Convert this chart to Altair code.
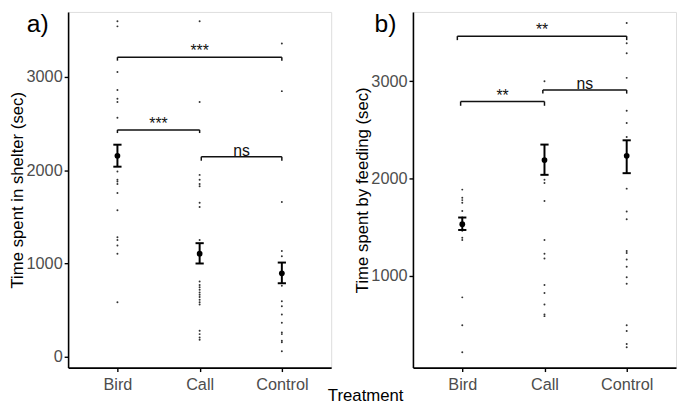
import altair as alt
import pandas as pd

FONT = "Liberation Sans"

categories = ["Bird", "Call", "Control"]

# ---- Panel a: Time spent in shelter (sec) ----
a_bird = [3599, 3543, 3053, 2859, 2767, 2732, 2563, 1985, 1896, 1879, 1851, 1755,
          1569, 1280, 1251, 1191, 1103, 582]
a_call = [3599, 2732, 1949, 1896, 1851, 1826, 1650, 1604, 1251, 804, 768, 744, 716,
          687, 663, 638, 610, 582, 557, 275, 240, 204, 180]
a_control = [3359, 2848, 1657, 1131, 1075, 899, 758, 592, 539, 451, 363, 257, 240,
             169, 152, 56]
a_mean = [2154, 1103, 892]
a_low = [2037, 998, 786]
a_high = [2273, 1216, 1008]

a_sig_x1 = [1, 1, 2.02]
a_sig_x2 = [3, 2, 3]
a_sig_y = [3212, 2432, 2144]
a_sig_tip = [3175, 2398, 2101]
a_sig_label = ["***", "***", "ns"]

# ---- Panel b: Time spent by feeding (sec) ----
b_bird = [1885, 1801, 1777, 1750, 1666, 1598, 1537, 1463, 1389, 1368, 777, 490, 213]
b_call = [3000, 1986, 1953, 1767, 1368, 1226, 1176, 905, 821, 703, 601, 584]
b_control = [3598, 3389, 3287, 3034, 2696, 2571, 2426, 1895, 1659, 1581, 1253, 1233,
             1166, 1091, 983, 916, 490, 432, 297, 264]
b_mean = [1530, 2189, 2233]
b_low = [1470, 2037, 2054]
b_high = [1598, 2348, 2392]

b_sig_x1 = [0.94, 0.98, 1.98]
b_sig_x2 = [3, 2, 3]
b_sig_y = [3463, 2791, 2909]
b_sig_tip = [3422, 2747, 2872]
b_sig_label = ["**", "**", "ns"]

a_ticks = [0, 1000, 2000, 3000]
b_ticks = [1000, 2000, 3000]
a_domain = [-119.5, 3698]
b_domain = [54.7, 3712]

W, H = 267, 361
CAP = 0.05

label_expr = "[" + ",".join("'%s'" % c for c in categories) + "][datum.value - 1]"


def panel(groups, mean, low, high, sx1, sx2, sy, stip, slab, ytitle, domain, ticks,
          tag, tag_x, extra_text=None):
    rows = []
    for i, g in enumerate(groups):
        for v in g:
            rows.append({"x": i + 1, "v": v})
    pts = pd.DataFrame(rows)
    summ = pd.DataFrame({"x": [1, 2, 3], "v": mean, "lo": low, "hi": high})
    sig = pd.DataFrame({"x1": sx1, "x2": sx2, "v": sy, "tip": stip, "lab": slab})

    xs = alt.Scale(domain=[0.4, 3.6], nice=False, zero=False)
    ys = alt.Scale(domain=domain, nice=False, zero=False)
    xaxis = alt.Axis(values=[1, 2, 3], labelExpr=label_expr, title=None, grid=False,
                     tickSize=4, labelPadding=5, labelFontSize=16.5, labelColor="#4d4d4d",
                     labelFont=FONT, domainColor="black", domainWidth=1.6,
                     tickColor="black", tickWidth=1.4)
    yaxis = alt.Axis(values=ticks, format="d", title=ytitle, grid=False,
                     tickSize=4, labelPadding=2, labelFontSize=16.5, labelColor="#4d4d4d",
                     labelFont=FONT, titleFont=FONT, titleFontSize=17,
                     titleFontWeight="normal", titleColor="black", titlePadding=1,
                     minExtent=41, maxExtent=41,
                     domainColor="black", domainWidth=1.6, tickColor="black", tickWidth=1.4)

    X = alt.X("x:Q", scale=xs, axis=xaxis)
    Y = alt.Y("v:Q", scale=ys, axis=yaxis)

    points = alt.Chart(pts).mark_circle(size=4, color="#333333", opacity=1).encode(x=X, y=Y)
    bars = alt.Chart(summ).mark_rule(color="black", strokeWidth=2).encode(
        x=X, y=alt.Y("lo:Q", scale=ys), y2="hi:Q")
    caps_lo = alt.Chart(summ).transform_calculate(
        xa="datum.x - %f" % CAP, xb="datum.x + %f" % CAP
    ).mark_rule(color="black", strokeWidth=2).encode(
        x=alt.X("xa:Q", scale=xs), x2="xb:Q", y=alt.Y("lo:Q", scale=ys))
    caps_hi = alt.Chart(summ).transform_calculate(
        xa="datum.x - %f" % CAP, xb="datum.x + %f" % CAP
    ).mark_rule(color="black", strokeWidth=2).encode(
        x=alt.X("xa:Q", scale=xs), x2="xb:Q", y=alt.Y("hi:Q", scale=ys))
    means = alt.Chart(summ).mark_circle(size=34, color="black", opacity=1).encode(x=X, y=Y)

    br_h = alt.Chart(sig).mark_rule(color="#111111", strokeWidth=1.5).encode(
        x=alt.X("x1:Q", scale=xs), x2="x2:Q", y=alt.Y("v:Q", scale=ys))
    br_l = alt.Chart(sig).mark_rule(color="#111111", strokeWidth=1.5).encode(
        x=alt.X("x1:Q", scale=xs), y=alt.Y("v:Q", scale=ys), y2="tip:Q")
    br_r = alt.Chart(sig).mark_rule(color="#111111", strokeWidth=1.5).encode(
        x=alt.X("x2:Q", scale=xs), y=alt.Y("v:Q", scale=ys), y2="tip:Q")
    br_t = alt.Chart(sig).transform_calculate(xm="(datum.x1 + datum.x2) / 2").mark_text(
        font=FONT, fontSize=16, color="#111111", baseline="alphabetic", dy=-1
    ).encode(x=alt.X("xm:Q", scale=xs), y=alt.Y("v:Q", scale=ys), text="lab:N")

    tag_df = pd.DataFrame({"t": [tag]})
    tag_t = alt.Chart(tag_df).mark_text(
        font=FONT, fontSize=25, color="black", align="left", baseline="alphabetic"
    ).encode(x=alt.value(tag_x), y=alt.value(20), text="t:N")

    layers = [points, bars, caps_lo, caps_hi, means, br_h, br_l, br_r, br_t, tag_t]
    if extra_text is not None:
        et = alt.Chart(pd.DataFrame({"t": [extra_text]})).mark_text(
            font=FONT, fontSize=17, color="black", align="center", baseline="alphabetic"
        ).encode(x=alt.value(302), y=alt.value(395), text="t:N")
        layers.append(et)
    return alt.layer(*layers).properties(width=W, height=H)


pa = panel([a_bird, a_call, a_control], a_mean, a_low, a_high,
           a_sig_x1, a_sig_x2, a_sig_y, a_sig_tip, a_sig_label,
           "Time spent in shelter (sec)", a_domain, a_ticks, "a)", -42,
           extra_text="Treatment")
pb = panel([b_bird, b_call, b_control], b_mean, b_low, b_high,
           b_sig_x1, b_sig_x2, b_sig_y, b_sig_tip, b_sig_label,
           "Time spent by feeding (sec)", b_domain, b_ticks, "b)", -39)

chart = alt.hconcat(pa, pb, spacing=83, bounds="flush").properties(
    padding={"left": 0, "top": 0, "right": 0, "bottom": 0}
).configure_view(strokeWidth=0).configure(background="white")

chart.save("out.html", embed_options={"renderer": "svg", "actions": False})
